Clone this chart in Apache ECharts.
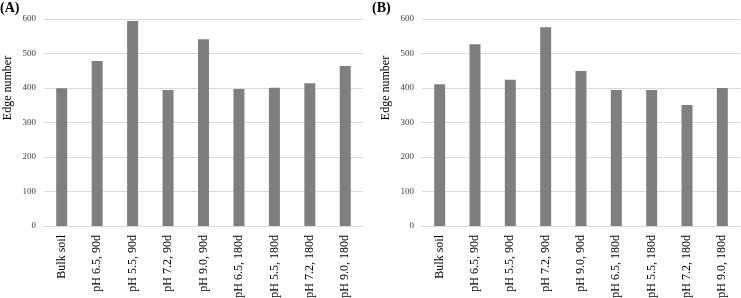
<!DOCTYPE html>
<html>
<head>
<meta charset="utf-8">
<script src="https://cdn.jsdelivr.net/npm/echarts@6/dist/echarts.min.js"></script>
<style>
  html, body { margin: 0; padding: 0; background: #fff; }
  #chart { width: 741px; height: 298px; }
</style>
</head>
<body>
<div id="chart"></div>
<script>
// categories shared by both panels
var categories = ['Bulk soil', 'pH 6.5, 90d', 'pH 5.5, 90d', 'pH 7.2, 90d', 'pH 9.0, 90d',
  'pH 6.5, 180d', 'pH 5.5, 180d', 'pH 7.2, 180d', 'pH 9.0, 180d']
var edgesA = [399, 478, 594, 394, 541, 397, 401, 414, 464]
var edgesB = [411, 527, 424, 576, 449, 394, 394, 351, 400]
var panelLabels = ['(A)', '(B)']

var serif = '"Liberation Serif", "Times New Roman", serif'
var chart = echarts.init(document.getElementById('chart'))

function xAxisFor(idx) {
  return {
    type: 'category',
    gridIndex: idx,
    data: categories,
    axisTick: { show: false },
    axisLine: { lineStyle: { color: '#d9d9d9', width: 1 } },
    axisLabel: {
      rotate: 90,
      margin: 9,
      interval: 0,
      fontFamily: serif,
      fontSize: 12,
      color: '#000'
    }
  }
}

function yAxisFor(idx) {
  return {
    type: 'value',
    gridIndex: idx,
    min: 0,
    max: 600,
    interval: 100,
    axisLine: { show: false },
    axisTick: { show: false },
    splitLine: { lineStyle: { color: '#d9d9d9', width: 1 } },
    axisLabel: {
      margin: 8,
      fontFamily: serif,
      fontSize: 9,
      color: '#404040'
    }
  }
}

function barSeries(idx, values) {
  return {
    type: 'bar',
    xAxisIndex: idx,
    yAxisIndex: idx,
    data: values,
    barWidth: 11,
    itemStyle: { color: '#7f7f7f' },
    silent: true
  }
}

chart.setOption({
  animation: false,
  grid: [
    { left: 44, top: 19, width: 319, height: 207, outerBoundsMode: 'none' },
    { left: 422, top: 19, width: 318, height: 207, outerBoundsMode: 'none' }
  ],
  xAxis: [xAxisFor(0), xAxisFor(1)],
  yAxis: [yAxisFor(0), yAxisFor(1)],
  series: [barSeries(0, edgesA), barSeries(1, edgesB)],
  graphic: [
    {
      type: 'text', left: 0, top: 1,
      style: { text: panelLabels[0], font: 'bold 14px ' + serif, fill: '#000' }
    },
    {
      type: 'text', left: 372, top: 1,
      style: { text: panelLabels[1], font: 'bold 14px ' + serif, fill: '#000' }
    },
    {
      type: 'text', x: 8, y: 88, rotation: Math.PI / 2,
      style: { text: 'Edge number', font: '12px ' + serif, fill: '#000', align: 'center', verticalAlign: 'middle' }
    },
    {
      type: 'text', x: 386, y: 88, rotation: Math.PI / 2,
      style: { text: 'Edge number', font: '12px ' + serif, fill: '#000', align: 'center', verticalAlign: 'middle' }
    }
  ]
})
</script>
</body>
</html>
